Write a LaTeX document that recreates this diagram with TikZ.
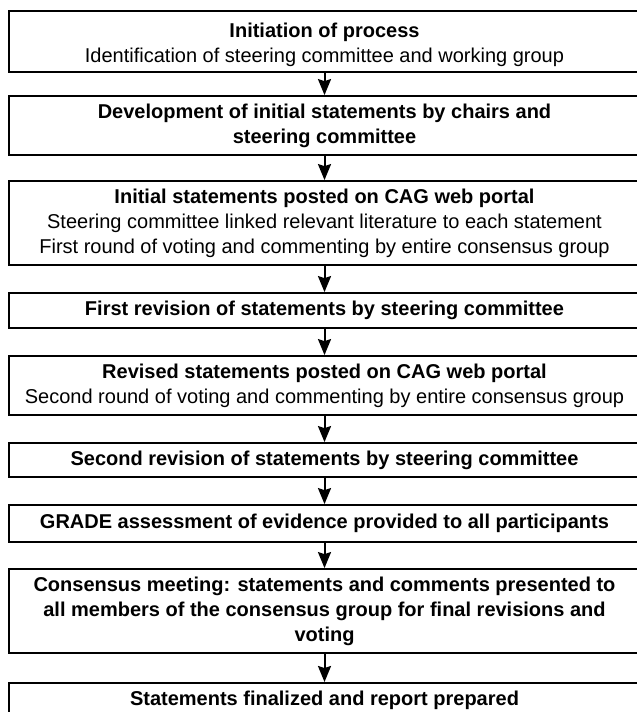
\documentclass[tikz,border=0pt]{standalone}
\usepackage{fontspec}
\setmainfont{Liberation Sans}
\usetikzlibrary{arrows.meta}
\begin{document}
\begin{tikzpicture}[x=1pt,y=-1pt,
  box/.style={draw, line width=1.8pt, minimum width=631pt, inner sep=0pt,
    align=center, font=\fontsize{20}{25}\selectfont},
  arr/.style={line width=2pt, -{Stealth[length=16pt,width=13pt,inset=2pt]}}]
\useasboundingbox (0,0) rectangle (637,712);
\clip (0,0) rectangle (637,712);
\fill[white] (0,0) rectangle (637,712);
\node[box, minimum height=61pt, text height=47pt] (b1) at (324.5,41.5)
  {\textbf{Initiation of process}\\Identification of steering committee and working group};
\node[box, minimum height=59pt] (b2) at (324.5,125.5)
  {\textbf{Development of initial statements by chairs and}\\\textbf{steering committee}};
\node[box, minimum height=84pt] (b3) at (324.5,223)
  {\textbf{Initial statements posted on CAG web portal}\\Steering committee linked relevant literature to each statement\\First round of voting and commenting by entire consensus group};
\node[box, minimum height=35pt] (b4) at (324.5,310.5)
  {\textbf{First revision of statements by steering committee}};
\node[box, minimum height=59pt] (b5) at (324.5,385.5)
  {\textbf{Revised statements posted on CAG web portal}\\Second round of voting and commenting by entire consensus group};
\node[box, minimum height=34pt] (b6) at (324.5,460)
  {\textbf{Second revision of statements by steering committee}};
\node[box, minimum height=37pt] (b7) at (324.5,523.5)
  {\textbf{GRADE assessment of evidence provided to all participants}};
\node[box, minimum height=84pt] (b8) at (324.5,611)
  {\textbf{Consensus meeting: statements and comments presented to}\\\textbf{all members of the consensus group for final revisions and}\\\textbf{voting}};
\node[box, anchor=north, text height=23pt, text depth=60pt] (b9) at (324.5,682)
  {\textbf{Statements finalized and report prepared}};
\draw[arr] (b1) -- (b2);
\draw[arr] (b2) -- (b3);
\draw[arr] (b3) -- (b4);
\draw[arr] (b4) -- (b5);
\draw[arr] (b5) -- (b6);
\draw[arr] (b6) -- (b7);
\draw[arr] (b7) -- (b8);
\draw[arr] (b8) -- (b9);
\end{tikzpicture}
\end{document}
